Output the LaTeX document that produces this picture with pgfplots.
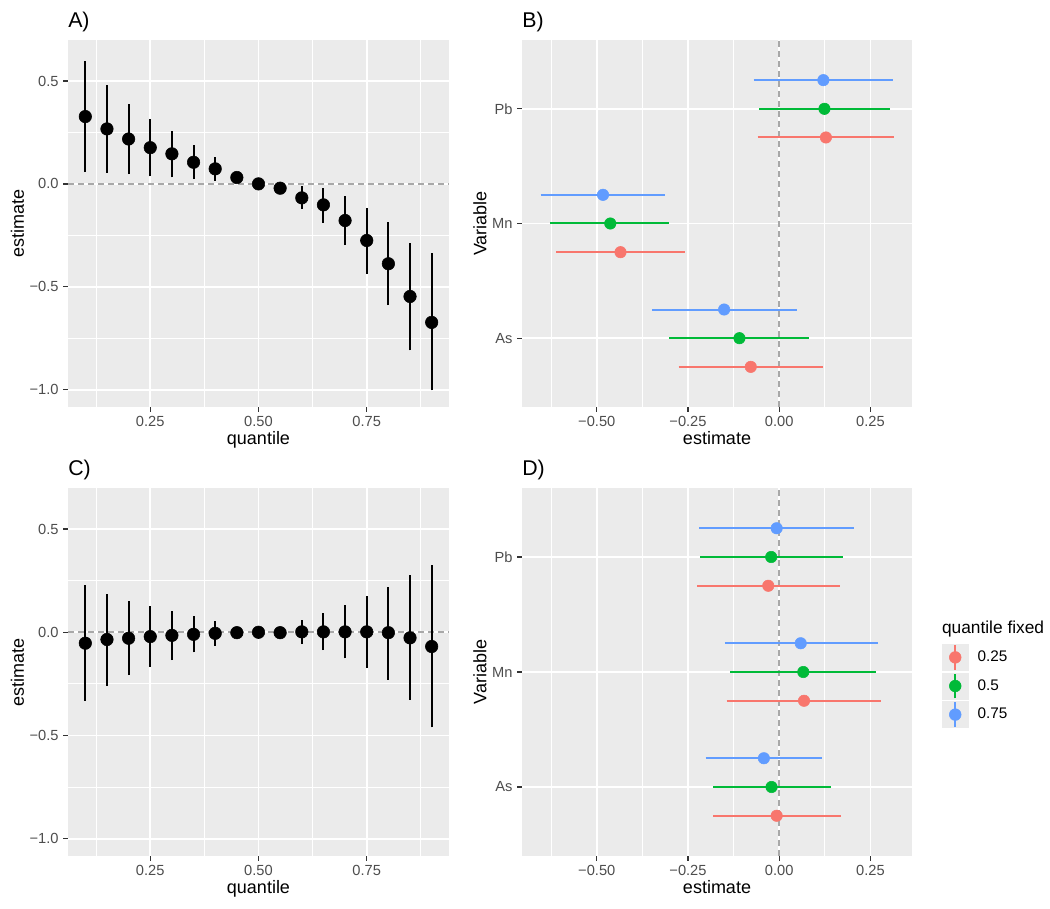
\documentclass[border=0pt]{standalone}
\usepackage{fontspec}
\setmainfont{Liberation Sans}
\usepackage{pgfplots}
\pgfplotsset{compat=1.18}
\usepackage{pgfplotstable}
\definecolor{bg}{HTML}{EBEBEB}
\definecolor{tk}{HTML}{4D4D4D}
\definecolor{tkl}{HTML}{333333}
\definecolor{zl}{HTML}{A8A8A8}
\definecolor{cr}{HTML}{F8766D}
\definecolor{cg}{HTML}{00BA38}
\definecolor{cb}{HTML}{619CFF}

% panel A: quantile, estimate, lower, upper
\pgfplotstableread{
q est lo hi
0.10 0.327 0.057 0.599
0.15 0.267 0.053 0.481
0.20 0.218 0.047 0.390
0.25 0.176 0.036 0.316
0.30 0.146 0.032 0.259
0.35 0.105 0.023 0.189
0.40 0.073 0.016 0.131
0.45 0.031 0.012 0.050
0.50 0.000 -0.004 0.004
0.55 -0.021 -0.036 -0.006
0.60 -0.068 -0.123 -0.010
0.65 -0.102 -0.188 -0.021
0.70 -0.178 -0.298 -0.060
0.75 -0.275 -0.437 -0.117
0.80 -0.388 -0.589 -0.184
0.85 -0.547 -0.809 -0.286
0.90 -0.673 -1.003 -0.337
}\Adata
% panel C
\pgfplotstableread{
q est lo hi
0.10 -0.053 -0.332 0.227
0.15 -0.035 -0.260 0.184
0.20 -0.029 -0.208 0.153
0.25 -0.021 -0.166 0.129
0.30 -0.015 -0.135 0.105
0.35 -0.010 -0.097 0.079
0.40 -0.005 -0.066 0.055
0.45 -0.002 -0.022 0.018
0.50 0.000 -0.004 0.004
0.55 -0.002 -0.025 0.022
0.60 0.002 -0.058 0.061
0.65 0.002 -0.087 0.094
0.70 0.002 -0.127 0.132
0.75 0.002 -0.174 0.177
0.80 -0.002 -0.229 0.221
0.85 -0.027 -0.326 0.276
0.90 -0.069 -0.461 0.324
}\Cdata
% panel B: pos (As=1, Mn=2, Pb=3, dodged), estimate, lower, upper
\pgfplotstableread{
pos est lo hi
0.75 -0.078 -0.276 0.120
1.75 -0.435 -0.611 -0.258
2.75 0.128 -0.059 0.314
}\Bred
\pgfplotstableread{
pos est lo hi
1 -0.109 -0.301 0.083
2 -0.463 -0.627 -0.301
3 0.124 -0.055 0.304
}\Bgreen
\pgfplotstableread{
pos est lo hi
1.25 -0.151 -0.348 0.048
2.25 -0.483 -0.654 -0.312
3.25 0.121 -0.070 0.311
}\Bblue
% panel D
\pgfplotstableread{
pos est lo hi
0.75 -0.007 -0.181 0.168
1.75 0.068 -0.144 0.279
2.75 -0.030 -0.225 0.167
}\Dred
\pgfplotstableread{
pos est lo hi
1 -0.021 -0.181 0.141
2 0.066 -0.134 0.265
3 -0.022 -0.216 0.174
}\Dgreen
\pgfplotstableread{
pos est lo hi
1.25 -0.042 -0.202 0.118
2.25 0.059 -0.149 0.270
3.25 -0.007 -0.219 0.205
}\Dblue

\pgfplotsset{
  gg/.style={
    scale only axis,
    axis background/.style={fill=bg},
    axis line style={draw=none},
    grid=both,
    major grid style={white, line width=1.3pt},
    minor grid style={white, line width=0.65pt},
    tick align=outside,
    tick pos=left,
    major tick length=3.6pt,
    minor tick length=0pt,
    tick style={tkl, line width=1pt},
    tick label style={font=\fontsize{11}{13}\selectfont, text=tk},
    every axis title/.style={at={(0,1)}, anchor=base west, yshift=9.5pt, inner sep=0pt, font=\fontsize{16}{18}\selectfont},
    every axis x label/.style={at={(0.5,-0.102)}, anchor=base, inner sep=0pt, font=\fontsize{13.5}{15}\selectfont},
    every axis y label/.style={at={(-0.1155,0.5)}, rotate=90, anchor=base, inner sep=0pt, font=\fontsize{13.5}{15}\selectfont},
  },
  qa/.style={gg,
    width=285.75pt, height=275.25pt,
    xmin=0.06, xmax=0.94, ymin=-1.084, ymax=0.699,
    xtick={0.25,0.5,0.75}, xticklabels={0.25,0.50,0.75},
    ytick={-1,-0.5,0,0.5}, yticklabels={−1.0,−0.5,0.0,0.5},
    minor xtick={0.125,0.375,0.625,0.875},
    minor ytick={-0.75,-0.25,0.25},
    xlabel={quantile}, ylabel={estimate},
  },
  va/.style={gg,
    width=292.5pt, height=275.25pt,
    xmin=-0.705, xmax=0.364, ymin=0.4, ymax=3.6,
    xtick={-0.5,-0.25,0,0.25}, xticklabels={−0.50,−0.25,0.00,0.25},
    minor xtick={-0.625,-0.375,-0.125,0.125},
    ytick={1,2,3}, yticklabels={As,Mn,Pb},
    minor ytick={},
    xlabel={estimate}, ylabel={Variable},
    ylabel style={at={(axis description cs:-0.0915,0.5)}},
  },
  zero/.style={zl, line width=1.2pt, dash pattern=on 4.5pt off 3pt, forget plot},
  % vertical intervals (A, C)
  vseg/.style={black, line width=1.5pt, forget plot, quiver={u=0, v=\thisrow{hi}-\thisrow{lo}}},
  vpt/.style={only marks, mark=*, mark size=4.7pt, black, forget plot},
  % horizontal intervals (B, D)
  hseg/.style={draw=#1, line width=1.5pt, forget plot, quiver={u=\thisrow{hi}-\thisrow{lo}, v=0}},
  hpt/.style={only marks, mark=*, mark size=4.3pt, color=#1, mark options={fill=#1, draw=#1},
    legend image code/.code={
      \fill[bg] (0pt,-9.75pt) rectangle (19pt,9.75pt);
      \draw[#1, line width=1.5pt] (9.5pt,-9.3pt) -- (9.5pt,9.3pt);
      \fill[#1] (9.5pt,0pt) circle (4.4pt);
    }},
}

\begin{document}
\begin{tikzpicture}
\path[use as bounding box] (0pt,0pt) rectangle (787.5pt,-681.75pt);

% ---------- A ----------
\begin{axis}[qa, at={(51pt,-305.25pt)}, anchor=south west, title={A)}]
\addplot[zero] coordinates {(0.06,0) (0.94,0)};
\addplot[vseg] table[x=q, y=lo] {\Adata};
\addplot[vpt] table[x=q, y=est] {\Adata};
\end{axis}

% ---------- B ----------
\begin{axis}[va, at={(391.5pt,-305.25pt)}, anchor=south west, title={B)}]
\addplot[zero] coordinates {(0,0.4) (0,3.6)};
\addplot[hseg=cr] table[x=lo, y=pos] {\Bred};
\addplot[hpt=cr] table[x=est, y=pos] {\Bred};
\addplot[hseg=cg] table[x=lo, y=pos] {\Bgreen};
\addplot[hpt=cg] table[x=est, y=pos] {\Bgreen};
\addplot[hseg=cb] table[x=lo, y=pos] {\Bblue};
\addplot[hpt=cb] table[x=est, y=pos] {\Bblue};
\end{axis}

% ---------- C ----------
\begin{axis}[qa, height=276pt, at={(51pt,-642pt)}, anchor=south west, title={C)}]
\addplot[zero] coordinates {(0.06,0) (0.94,0)};
\addplot[vseg] table[x=q, y=lo] {\Cdata};
\addplot[vpt] table[x=q, y=est] {\Cdata};
\end{axis}

% ---------- D ----------
\begin{axis}[va, height=276pt, at={(391.5pt,-642pt)}, anchor=south west, title={D)},
  legend style={at={(axis description cs:1.0777,0.5761)}, anchor=north west, draw=none, fill=none,
    inner sep=0pt, outer sep=0pt, row sep=1.35pt, column sep=7pt,
    font=\fontsize{11.5}{13}\selectfont, nodes={inner sep=0pt}},
  legend cell align=left]
\addplot[zero] coordinates {(0,0.4) (0,3.6)};
\addplot[hseg=cr] table[x=lo, y=pos] {\Dred};
\addplot[hpt=cr] table[x=est, y=pos] {\Dred};
\addlegendentry{0.25}
\addplot[hseg=cg] table[x=lo, y=pos] {\Dgreen};
\addplot[hpt=cg] table[x=est, y=pos] {\Dgreen};
\addlegendentry{0.5}
\addplot[hseg=cb] table[x=lo, y=pos] {\Dblue};
\addplot[hpt=cb] table[x=est, y=pos] {\Dblue};
\addlegendentry{0.75}
\end{axis}
\node[anchor=base west, inner sep=0pt, font=\fontsize{13}{15}\selectfont] at (706.3pt,-475pt) {quantile fixed};
\end{tikzpicture}
\end{document}
